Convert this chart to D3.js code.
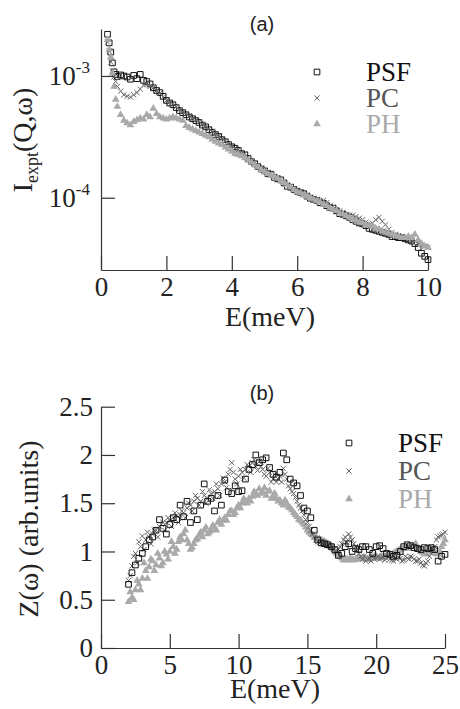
<!DOCTYPE html>
<html lang="en">
<head>
<meta charset="UTF-8">
<title>Iexpt(Q,w) and Z(w)</title>
<script src="https://d3js.org/d3.v7.min.js"></script>
<style>
    body {
        margin: 0;
        background: #fff;
    }
    svg {
        display: block;
    }
</style>
</head>
<body>
<script>
    // ---- panel (a): E (meV) and intensity in units of 1e-4
    const eTop = [0.2,0.25,0.3,0.35,0.4,0.45,0.5,0.6,0.7,0.8,0.9,1.0,1.1,1.2,1.3,1.4,1.5,1.6,1.7,1.8,1.9,2.0,
        2.1,2.2,2.3,2.4,2.5,2.6,2.7,2.8,2.9,3.0,3.1,3.2,3.3,3.4,3.5,3.6,3.7,3.8,3.9,4.0,4.1,4.2,4.3,4.4,4.5,
        4.6,4.7,4.8,4.9,5.0,5.1,5.2,5.3,5.4,5.5,5.6,5.7,5.8,5.9,6.0,6.1,6.2,6.3,6.4,6.5,6.6,6.7,6.8,6.9,7.0,
        7.1,7.2,7.3,7.4,7.5,7.6,7.7,7.8,7.9,8.0,8.1,8.2,8.3,8.4,8.5,8.6,8.7,8.8,8.9,9.0,9.1,9.2,9.3,9.4,9.5,
        9.6,9.7,9.8,9.9,10.0];
    const psfTop = [22,18.7,15.7,12.8,10.8,10.3,9.9,
        10.2,10.0,9.8,9.4,10.1,9.5,10.3,9.2,9.0,8.6,
        8.0,7.6,7.3,6.8,6.3, 6.0,5.8,5.5,5.2,5.0, 4.8,4.6,4.45,4.3,4.15, 3.95,3.82,3.62,3.45,3.3,
        3.18,3.0,2.88,2.74,2.62, 2.55,2.45,2.30,2.25,2.10, 1.98,1.90,1.80,1.72,1.66, 1.58,1.56,1.47,1.43,1.40,
        1.32,1.24,1.22,1.17,1.13, 1.10,1.08,1.03,0.99,0.97, 0.95,0.91,0.90,0.86,0.83, 0.82,0.78,0.74,0.73,0.71,
        0.69,0.66,0.64,0.62,0.61, 0.59,0.56,0.55,0.54,0.53, 0.52,0.51,0.50,0.48,0.48, 0.47,0.47,0.46,0.45,0.44,
        0.42,0.39,0.35,0.33,0.31];
    const pcTop = [19,16,13,11,9.8,9.0,8.2,
        7.5,7.0,6.8,6.7,7.0,7.3,7.8,8.4,8.6,8.2,
        8.0,7.6,7.2,6.7,6.3, 6.1,5.9,5.6,5.3,5.1, 4.9,4.7,4.5,4.35,4.2, 4.0,3.85,3.68,3.5,3.35,
        3.2,3.05,2.92,2.78,2.66, 2.56,2.47,2.36,2.30,2.15, 2.02,1.93,1.84,1.75,1.68, 1.62,1.58,1.50,1.46,1.42,
        1.35,1.28,1.24,1.19,1.15, 1.12,1.09,1.05,1.01,0.99, 0.97,0.94,0.95,0.91,0.86, 0.84,0.80,0.78,0.76,0.73,
        0.72,0.72,0.70,0.68,0.66, 0.63,0.60,0.62,0.66,0.69, 0.64,0.60,0.55,0.52,0.50, 0.49,0.48,0.47,0.46,0.45,
        0.44,0.42,0.41,0.40,0.39];
    const phTop = [19.8,16.5,14.3,10.5,8.2,6.4,5.6,
        4.8,4.3,4.1,3.95,4.2,4.35,4.5,4.4,4.8,4.6,
        5.4,4.9,4.6,4.5,4.4, 4.5,4.6,4.5,4.4,4.3, 3.9,3.75,3.65,3.55,3.45, 3.35,3.25,3.15,3.0,2.9,
        2.8,2.72,2.6,2.5,2.4, 2.3,2.25,2.2,2.12,2.02, 1.95,1.86,1.78,1.70,1.63, 1.57,1.52,1.50,1.44,1.38,
        1.33,1.28,1.22,1.16,1.12, 1.09,1.05,1.03,1.00,0.97, 0.94,0.92,0.88,0.86,0.82, 0.80,0.78,0.75,0.73,0.71,
        0.69,0.67,0.65,0.63,0.62, 0.60,0.59,0.58,0.56,0.55, 0.53,0.52,0.51,0.50,0.49, 0.48,0.47,0.47,0.48,0.47,
        0.50,0.45,0.42,0.40,0.39];

    // ---- panel (b): E (meV) and Z(w) in arb. units
    const eBot = [2,2.25,2.5,2.75,3,3.25,3.5,3.75,4,4.25,4.5,4.75,5,5.25,5.5,5.75,6,6.25,6.5,6.75,
        7,7.25,7.5,7.75,8,8.25,8.5,8.75,9,9.25,9.5,9.75,10,10.25,10.5,10.75,11,11.25,11.5,11.75,
        12,12.25,12.5,12.75,13,13.25,13.5,13.75,14,14.25,14.5,14.75,15,15.25,15.5,15.75,16,16.25,16.5,16.75,
        17,17.25,17.5,17.75,18,18.25,18.5,18.75,19,19.25,19.5,19.75,20,20.25,20.5,20.75,21,21.25,21.5,21.75,
        22,22.25,22.5,22.75,23,23.25,23.5,23.75,24,24.25,24.5,24.75,25];
    const psfBot = [0.66,0.78,0.86,0.93, 0.98,1.05,1.12,1.15, 1.22,1.33,1.24,1.18, 1.28,1.35,1.33,1.48,
        1.36,1.52,1.30,1.42, 1.33,1.48,1.70,1.52, 1.55,1.42,1.58,1.48, 1.74,1.62,1.60,1.68,
        1.62,1.63,1.75,1.85, 1.90,2.00,1.92,1.95, 1.97,1.87,1.80,1.77, 1.82,2.02,1.95,1.75,
        1.71,1.68,1.58,1.45, 1.42,1.35,1.22,1.12, 1.09,1.08,1.07,1.05, 1.02,0.96,0.98,1.05,
        1.08,1.00,1.03,1.02, 1.05,1.05,1.02,0.98, 1.05,1.06,1.03,0.98, 0.97,0.95,0.96,1.00,
        1.05,1.07,1.06,1.04, 1.03,1.02,1.04,1.03, 1.04,1.02,0.90,0.95, 0.97];
    const pcBot = [0.70,0.85,0.98,1.10, 1.16,1.12,1.15,1.18, 1.22,1.26,1.30,1.30, 1.32,1.35,1.37,1.38,
        1.40,1.45,1.48,1.52, 1.55,1.52,1.58,1.55, 1.60,1.62,1.65,1.70, 1.72,1.80,1.92,1.75,
        1.78,1.82,1.85,1.88, 1.92,1.88,1.93,1.85, 1.78,1.82,1.75,1.72, 1.78,1.86,1.75,1.65,
        1.60,1.52,1.45,1.38, 1.30,1.22,1.15,1.10, 1.08,1.07,1.06,1.05, 1.00,1.02,1.08,1.15,
        1.18,1.12,1.05,0.98, 0.92,0.90,0.93,0.95, 0.93,0.92,0.94,0.93, 0.92,0.90,0.92,0.93,
        0.91,0.93,0.95,0.92, 0.90,0.88,0.85,0.90, 0.98,1.05,1.15,1.17, 1.20];
    const phBot = [0.48,0.52,0.60,0.66, 0.72,0.80,0.84,0.90, 0.86,0.93,0.88,0.97, 1.00,1.05,1.02,1.15,
        1.18,1.12,1.02,1.08, 1.13,1.20,1.22,1.18, 1.22,1.25,1.30,1.28, 1.35,1.38,1.42,1.40,
        1.48,1.50,1.52,1.55, 1.57,1.60,1.65,1.62, 1.58,1.63,1.57,1.55, 1.53,1.48,1.50,1.45,
        1.40,1.36,1.32,1.28, 1.22,1.18,1.15,1.13, 1.12,1.10,1.08,1.05, 1.00,0.96,0.93,0.92,
        0.91,0.92,0.92,0.93, 0.93,0.92,0.93,0.94, 0.95,0.94,0.95,0.96, 0.97,0.98,1.00,1.02,
        1.03,1.04,1.05,1.06, 1.04,1.00,0.98,1.00, 1.02,1.00,0.97,1.05, 1.12];

    // in-between energies, where the PC and PH runs have extra points
    const eBotMid = [2.125,2.375,2.625,2.875,3.125,3.375,3.625,3.875,4.125,4.375,4.625,4.875,
        5.125,5.375,5.625,5.875,6.125,6.375,6.625,6.875,7.125,7.375,7.625,7.875,
        8.125,8.375,8.625,8.875,9.125,9.375,9.625,9.875,10.125,10.375,10.625,10.875,
        11.125,11.375,11.625,11.875,12.125,12.375,12.625,12.875,13.125,13.375,13.625,13.875,
        14.125,14.375,14.625,14.875,15.125,15.375,15.625,15.875,16.125,16.375,16.625,16.875,
        17.125,17.375,17.625,17.875,18.125,18.375,18.625,18.875,19.125,19.375,19.625,19.875,
        20.125,20.375,20.625,20.875,21.125,21.375,21.625,21.875,22.125,22.375,22.625,22.875,
        23.125,23.375,23.625,23.875,24.125,24.375,24.625,24.875];
    const pcBotMid = [0.75,0.95,0.88,1.05, 1.02,1.20,1.08,1.22, 1.15,1.28,1.22,1.35,
        1.26,1.40,1.30,1.42, 1.35,1.50,1.42,1.58, 1.48,1.62,1.50,1.64,
        1.55,1.70,1.58,1.76, 1.66,1.85,1.82,1.70, 1.85,1.76,1.90,1.82,
        1.95,1.84,1.88,1.80, 1.86,1.72,1.80,1.75, 1.72,1.80,1.68,1.62,
        1.56,1.48,1.42,1.33, 1.26,1.18,1.12,1.09, 1.08,1.06,1.05,1.02,
        1.00,1.05,1.12,1.10, 1.15,1.08,1.02,0.95, 0.95,0.92,0.90,0.92,
        0.95,0.93,0.91,0.94, 0.91,0.93,0.94,0.90, 0.95,0.92,0.94,0.90,
        0.92,0.86,0.88,0.95, 1.02,1.12,1.16,1.18];
    const phBotMid = [0.58,0.50,0.70,0.60, 0.88,0.72,0.92,0.80, 0.98,0.85,1.00,0.92,
        1.10,0.98,1.10,1.12, 1.22,1.08,1.04,1.12, 1.17,1.15,1.25,1.20,
        1.27,1.22,1.33,1.32, 1.32,1.42,1.38,1.45, 1.45,1.55,1.50,1.52,
        1.62,1.58,1.60,1.66, 1.62,1.55,1.60,1.52, 1.50,1.53,1.46,1.43,
        1.38,1.33,1.30,1.25, 1.20,1.17,1.14,1.13, 1.11,1.09,1.06,1.03,
        0.98,0.95,0.91,0.92, 0.93,0.91,0.93,0.92, 0.94,0.92,0.94,0.95,
        0.93,0.95,0.94,0.97, 0.96,0.99,1.01,1.03, 1.05,1.03,1.06,1.08,
        1.02,0.99,0.97,1.01, 1.01,0.98,1.00,1.08];

    const seriesNames = ["PSF", "PC", "PH"];
    const xTicksA = [0, 2, 4, 6, 8, 10];
    const yTicksA = [1e-3, 1e-4];
    const xTicksB = [0, 5, 10, 15, 20, 25];
    const yTicksB = [0, 0.5, 1, 1.5, 2, 2.5];

    const serif = '"Liberation Serif", "Times New Roman", serif';
    const sans = '"Liberation Sans", Arial, sans-serif';
    const axisColor = "#333";

    const svg = d3.select("body").append("svg")
        .attr("width", 460)
        .attr("height", 709);

    // marker styles
    const markers = {
        PSF: {path: d3.symbol(d3.symbolSquare, 32)(), fill: "none", stroke: "#111"},
        PC: {path: "M-2.6,-2.6L2.6,2.6M-2.6,2.6L2.6,-2.6", fill: "none", stroke: "#666"},
        PH: {path: d3.symbol(d3.symbolTriangle, 26)(), fill: "#a9a9a9", stroke: "none"}
    };
    const textColors = {PSF: "#111", PC: "#555", PH: "#aaa"};

    function drawAxes(x, y, xTicks, yTicks, yPad, yFmt) {
        const gx = svg.append("g")
            .attr("transform", `translate(0,${y.range()[0]})`)
            .call(d3.axisBottom(x).tickValues(xTicks).tickSizeInner(-14).tickSizeOuter(0).tickPadding(7));
        const gy = svg.append("g")
            .attr("transform", `translate(${x.range()[0]},0)`)
            .call(d3.axisLeft(y).tickValues(yTicks).tickSizeInner(-14).tickSizeOuter(0).tickPadding(yPad).tickFormat(yFmt));
        [gx, gy].forEach(g => {
            g.select(".domain").attr("stroke", axisColor).attr("stroke-width", 1.2);
            g.selectAll(".tick line").attr("stroke", axisColor).attr("stroke-width", 1.2);
            g.selectAll(".tick text")
                .attr("font-family", serif)
                .attr("font-size", 27)
                .attr("fill", "#222");
        });
        return gy;
    }

    function drawSeries(x, y, es, vals, name, mult) {
        const m = markers[name];
        svg.append("g")
            .selectAll("path")
            .data(es.map((e, i) => [e, vals[i] * mult]))
            .enter()
            .append("path")
            .attr("d", m.path)
            .attr("transform", d => `translate(${x(d[0])},${y(d[1])})`)
            .attr("fill", m.fill)
            .attr("stroke", m.stroke)
            .attr("stroke-width", 1);
    }

    function drawLegend(mx, tx, y0, step) {
        seriesNames.forEach((name, i) => {
            const m = markers[name];
            svg.append("path")
                .attr("d", m.path)
                .attr("transform", `translate(${mx},${y0 + i * step})`)
                .attr("fill", m.fill)
                .attr("stroke", m.stroke)
                .attr("stroke-width", 1);
            svg.append("text")
                .attr("x", tx)
                .attr("y", y0 + i * step + 8.5)
                .attr("font-family", serif)
                .attr("font-size", 27)
                .attr("fill", textColors[name])
                .text(name);
        });
    }

    // ---------- panel (a)
    const xA = d3.scaleLinear().domain([0, 10]).range([101, 428]);
    const yA = d3.scaleLog().domain([2.55e-5, 2.43e-3]).range([270, 29]);

    const gyA = drawAxes(xA, yA, xTicksA, yTicksA, 11, () => "");
    gyA.selectAll(".tick text").each(function (d) {
        const t = d3.select(this);
        t.append("tspan").text("10");
        t.append("tspan").attr("dy", -12).attr("font-size", 17).text(Math.round(Math.log10(d)));
    });

    drawSeries(xA, yA, eTop, psfTop, "PSF", 1e-4);
    drawSeries(xA, yA, eTop, pcTop, "PC", 1e-4);
    drawSeries(xA, yA, eTop, phTop, "PH", 1e-4);
    drawLegend(317, 366, 72, 26);

    svg.append("text")
        .attr("x", 262).attr("y", 31)
        .attr("text-anchor", "middle")
        .attr("font-family", sans).attr("font-size", 20).attr("fill", "#222")
        .text("(a)");
    svg.append("text")
        .attr("x", 270).attr("y", 326)
        .attr("text-anchor", "middle")
        .attr("font-family", serif).attr("font-size", 28).attr("fill", "#222")
        .text("E(meV)");
    const labA = svg.append("text")
        .attr("transform", "translate(32,140) rotate(-90)")
        .attr("text-anchor", "middle")
        .attr("font-family", serif).attr("font-size", 28).attr("fill", "#222");
    labA.append("tspan").text("I");
    labA.append("tspan").attr("dy", 6).attr("font-size", 18).text("expt");
    labA.append("tspan").attr("dy", -6).text("(Q,\u03c9)");

    // ---------- panel (b)
    const xB = d3.scaleLinear().domain([0, 25]).range([101, 445]);
    const yB = d3.scaleLinear().domain([0, 2.5]).range([648, 406.7]);

    drawAxes(xB, yB, xTicksB, yTicksB, 8, d => String(d));

    drawSeries(xB, yB, eBot, phBot, "PH", 1);
    drawSeries(xB, yB, eBotMid, phBotMid, "PH", 1);
    drawSeries(xB, yB, eBot, pcBot, "PC", 1);
    drawSeries(xB, yB, eBotMid, pcBotMid, "PC", 1);
    drawSeries(xB, yB, eBot, psfBot, "PSF", 1);
    drawLegend(349, 398, 443, 28);

    svg.append("text")
        .attr("x", 262).attr("y", 400)
        .attr("text-anchor", "middle")
        .attr("font-family", sans).attr("font-size", 20).attr("fill", "#222")
        .text("(b)");
    svg.append("text")
        .attr("x", 275).attr("y", 698)
        .attr("text-anchor", "middle")
        .attr("font-family", serif).attr("font-size", 28).attr("fill", "#222")
        .text("E(meV)");
    svg.append("text")
        .attr("transform", "translate(38,529) rotate(-90)")
        .attr("text-anchor", "middle")
        .attr("font-family", serif).attr("font-size", 28).attr("fill", "#222")
        .text("Z(\u03c9) (arb.units)");
</script>
</body>
</html>
